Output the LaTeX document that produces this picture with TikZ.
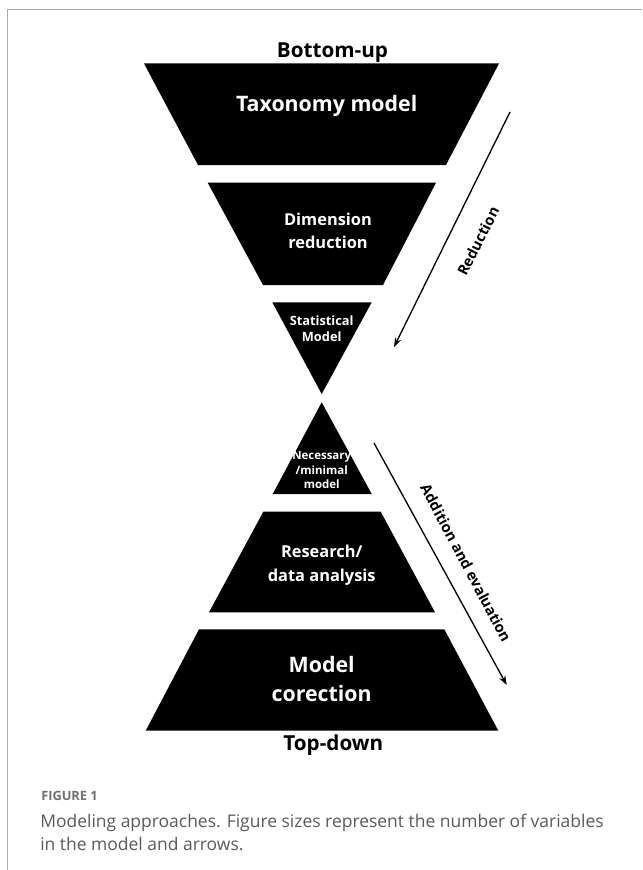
\documentclass[tikz,border=0pt]{standalone}
\usepackage{fontspec}
\setmainfont{Open Sans}
\usetikzlibrary{arrows.meta}
\definecolor{framegray}{HTML}{AAAAAA}
\definecolor{captiongray}{HTML}{5A5A5A}
\definecolor{labelgray}{HTML}{707070}
\begin{document}
\begin{tikzpicture}[x=0.75pt,y=-0.75pt,
  block/.style={fill=black,draw=none},
  intext/.style={text=white,font=\bfseries,align=center,inner sep=0pt},
  outtext/.style={text=black,font=\bfseries,inner sep=0pt},
  flow/.style={line width=1pt,-{Stealth[length=7pt,width=5pt]}},
  flowtext/.style={font=\bfseries\fontsize{11}{13}\selectfont,inner sep=0pt},
  captext/.style={anchor=base west,inner sep=0pt,text=captiongray,font=\fontsize{13.1}{17}\selectfont}]
\useasboundingbox (0,0) rectangle (642,870);
\fill[white] (0,0) rectangle (642,870);
% page frame
\draw[framegray,line width=0.8pt] (7.3,870) -- (7.3,9.3) -- (642,9.3);

% funnel of reduction
\fill[block] (144,63.5) -- (499,63.5) -- (446,165) -- (198,165) -- cycle;
\fill[block] (207.7,182.7) -- (436,182.7) -- (383,285) -- (263,285) -- cycle;
\fill[block] (272.3,302.3) -- (371.7,302.3) -- (321.7,394) -- cycle;
% pyramid of addition
\fill[block] (321.7,402.3) -- (371.7,494) -- (272.7,494) -- cycle;
\fill[block] (263.3,511.7) -- (380.7,511.7) -- (435,612.3) -- (209,612.3) -- cycle;
\fill[block] (199,629.3) -- (444.3,629.3) -- (498.3,730.7) -- (145.7,730.7) -- cycle;

% level labels
\node[outtext,font=\bfseries\fontsize{15.5}{18}\selectfont] (bu) at (332.5,53) {Bottom-up};
\node[intext,font=\bfseries\fontsize{16}{19}\selectfont] (tax) at (326.7,106) {Taxonomy model};
\node[intext,font=\bfseries\fontsize{12.3}{17.7}\selectfont] (dim) at (328,231) {Dimension\\reduction};
\node[intext,font=\bfseries\fontsize{9.6}{12}\selectfont] (stat) at (321.7,329) {Statistical\\Model};
\node[intext,font=\bfseries\fontsize{8.6}{10.9}\selectfont] (nec) at (321.7,470) {Necessary\\/minimal\\model};
\node[intext,font=\bfseries\fontsize{12.3}{18}\selectfont] (res) at (321.7,565) {Research/\\data analysis};
\node[intext,font=\bfseries\fontsize{16}{21.2}\selectfont] (corr) at (321.7,679) {Model\\corection};
\node[outtext,font=\bfseries\fontsize{15.5}{18}\selectfont] (td) at (333.3,745) {Top-down};

% direction arrows
\coordinate (redA) at (510,112);
\coordinate (redB) at (394,347);
\coordinate (addA) at (374,443);
\coordinate (addB) at (506.7,685);
\draw[flow] (redA) -- (redB);
\draw[flow] (addA) -- (addB);
\node[flowtext,rotate=63] (redlab) at (478,241) {Reduction};
\node[flowtext,rotate=-62] (addlab) at (466,563) {Addition and evaluation};

% caption
\node[anchor=base west,inner sep=0pt,text=labelgray,font=\bfseries\fontsize{9.6}{11}\selectfont] (fig) at (41,800) {FIGURE 1};
\node[captext] (cap1) at (40,827) {Modeling approaches. Figure sizes represent the number of variables};
\node[captext] (cap2) at (40,850) {in the model and arrows.};
\end{tikzpicture}
\end{document}
